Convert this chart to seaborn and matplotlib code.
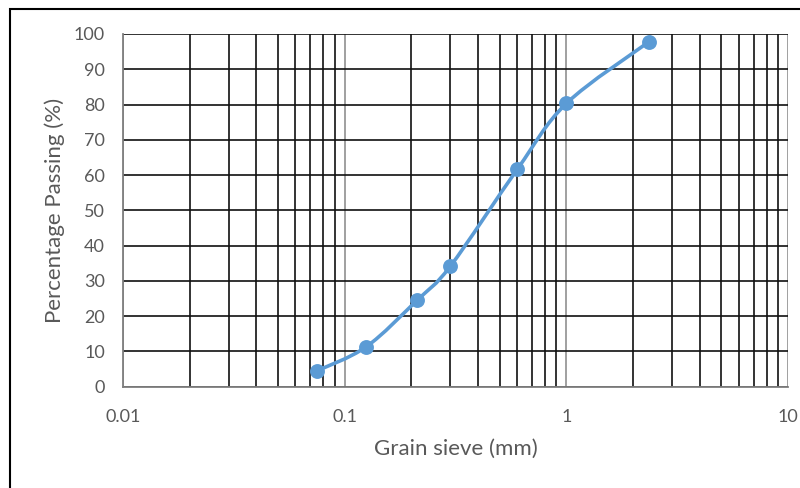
import numpy as np
import pandas as pd
import matplotlib
matplotlib.use('Agg')
import matplotlib.pyplot as plt
from matplotlib.path import Path
from matplotlib.patches import PathPatch, Rectangle
from matplotlib.ticker import LogLocator, NullFormatter, FixedLocator
import seaborn as sns

# sieve analysis data
sieve_mm = [0.075, 0.125, 0.212, 0.3, 0.6, 1.0, 2.36]
passing = [4.5, 11.3, 24.5, 34.2, 61.6, 80.3, 97.8]
x_ticks = [0.01, 0.1, 1, 10]
x_tick_labels = ['0.01', '0.1', '1', '10']
y_ticks = list(range(0, 101, 10))

df = pd.DataFrame({'sieve': sieve_mm, 'passing': passing})

sns.set_style('white')
plt.rcParams['font.family'] = ['Lato', 'DejaVu Sans']

blue = '#5b9bd5'
grey_txt = '#595959'

fig = plt.figure(figsize=(8, 4.88), dpi=100)
ax = fig.add_axes([123 / 800, 1 - 386.7 / 488, (788 - 123) / 800, (386.7 - 34) / 488])

ax.set_xscale('log')
ax.set_xlim(0.01, 10)
ax.set_ylim(0, 100)

# grid
ax.xaxis.set_major_locator(FixedLocator(x_ticks))
ax.xaxis.set_minor_locator(LogLocator(base=10, subs=np.arange(2, 10)))
ax.xaxis.set_minor_formatter(NullFormatter())
ax.set_xticklabels(x_tick_labels)
ax.set_yticks(y_ticks)
ax.grid(which='minor', axis='x', color='#111111', lw=1.2)
ax.grid(which='major', axis='x', color='#a0a0a0', lw=1.4)
ax.grid(which='major', axis='y', color='#111111', lw=1.2)
ax.set_axisbelow(True)

# smoothed curve (Catmull-Rom style, like Excel smooth line) in log-x space
lx = np.log10(df['sieve'].values)
yy = df['passing'].values
pts = np.column_stack([lx, yy])
n = len(pts)
verts = [pts[0]]
codes = [Path.MOVETO]
for i in range(n - 1):
    p0 = pts[i - 1] if i > 0 else pts[i]
    p1 = pts[i]
    p2 = pts[i + 1]
    p3 = pts[i + 2] if i + 2 < n else pts[i + 1]
    c1 = p1 + (p2 - p0) / 6
    c2 = p2 - (p3 - p1) / 6
    verts += [c1, c2, p2]
    codes += [Path.CURVE4] * 3
verts = np.array(verts)
verts[:, 0] = 10 ** verts[:, 0]
ax.add_patch(PathPatch(Path(verts, codes), facecolor='none', edgecolor=blue, lw=2.6,
                       capstyle='round', zorder=3))

sns.scatterplot(data=df, x='sieve', y='passing', ax=ax, color=blue, s=115,
                edgecolor=blue, linewidth=0, zorder=4, clip_on=False)

for side in ['top', 'right']:
    ax.spines[side].set_visible(False)
for side in ['left', 'bottom']:
    ax.spines[side].set_color('#7f7f7f')
    ax.spines[side].set_linewidth(1.3)

ax.tick_params(axis='x', which='major', direction='out', length=7, width=1.3,
               color='#7f7f7f', labelsize=13, labelcolor=grey_txt, pad=9)
ax.tick_params(axis='x', which='minor', length=0)
ax.tick_params(axis='y', length=0, labelsize=13, labelcolor=grey_txt, pad=13)

ax.set_xlabel('Grain sieve (mm)', fontsize=16, color=grey_txt, labelpad=10)
ax.set_ylabel('Percentage Passing (%)', fontsize=16, color=grey_txt, labelpad=6)

# outer frame (cut off at right and bottom)
fig.patches.append(Rectangle((10 / 800, -0.2), 1.2, 1.2 - 9 / 488,
                             transform=fig.transFigure, fill=False,
                             edgecolor='black', lw=1.5))

fig.savefig('out.png', dpi=100)
